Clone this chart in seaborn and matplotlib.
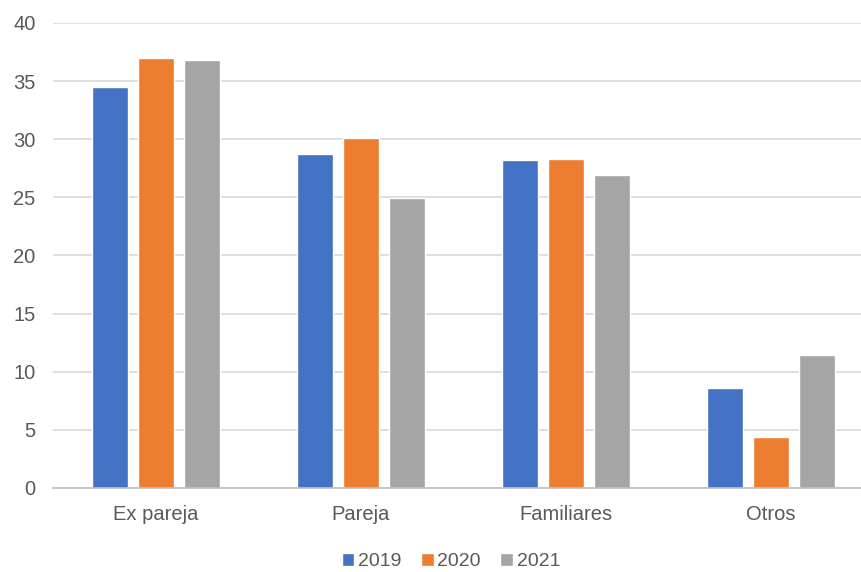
import pandas as pd
import matplotlib
matplotlib.use('Agg')
import matplotlib.pyplot as plt
import seaborn as sns

categorias = ['Ex pareja', 'Pareja', 'Familiares', 'Otros']
anios = ['2019', '2020', '2021']
v2019 = [34.5, 28.7, 28.2, 8.6]
v2020 = [37.0, 30.1, 28.3, 4.4]
v2021 = [36.8, 24.9, 26.9, 11.4]
colores = ['#4472C4', '#ED7D31', '#A5A5A5']

df = pd.DataFrame({
    'categoria': categorias * 3,
    'anio': [a for a in anios for _ in categorias],
    'valor': v2019 + v2020 + v2021,
})

sns.set_theme(style='white')
plt.rcParams['font.family'] = ['Liberation Sans', 'DejaVu Sans']

fig = plt.figure(figsize=(8.61, 5.72), dpi=100)
# el área de trazado sobresale un poco por la derecha, como en la imagen original
ax = fig.add_axes([0.0621, 0.147, 0.952, 0.813])

sns.barplot(data=df, x='categoria', y='valor', hue='anio', palette=colores,
            width=0.674, gap=0.217, saturation=1, ax=ax)

ax.set_xlim(-0.5, 3.5)
ax.set_ylim(0, 40)
ax.set_yticks(range(0, 41, 5))
ax.yaxis.grid(True, color='#D9D9D9', linewidth=1.2)
ax.set_axisbelow(True)
for s in ['top', 'right', 'left']:
    ax.spines[s].set_visible(False)
ax.spines['bottom'].set_color('#BFBFBF')
ax.spines['bottom'].set_linewidth(1.2)
ax.tick_params(axis='both', length=0, labelsize=14.5, labelcolor='#595959')
ax.tick_params(axis='y', pad=13)
ax.tick_params(axis='x', pad=12)
ax.set_xlabel('')
ax.set_ylabel('')

ax.legend(loc='upper center', bbox_to_anchor=(0.485, -0.11), ncol=3, frameon=False,
          fontsize=14, handlelength=0.65, handleheight=0.65, handletextpad=0.2,
          columnspacing=1.0, labelcolor='#595959', borderpad=0.2)

fig.savefig('out.png', dpi=100)
